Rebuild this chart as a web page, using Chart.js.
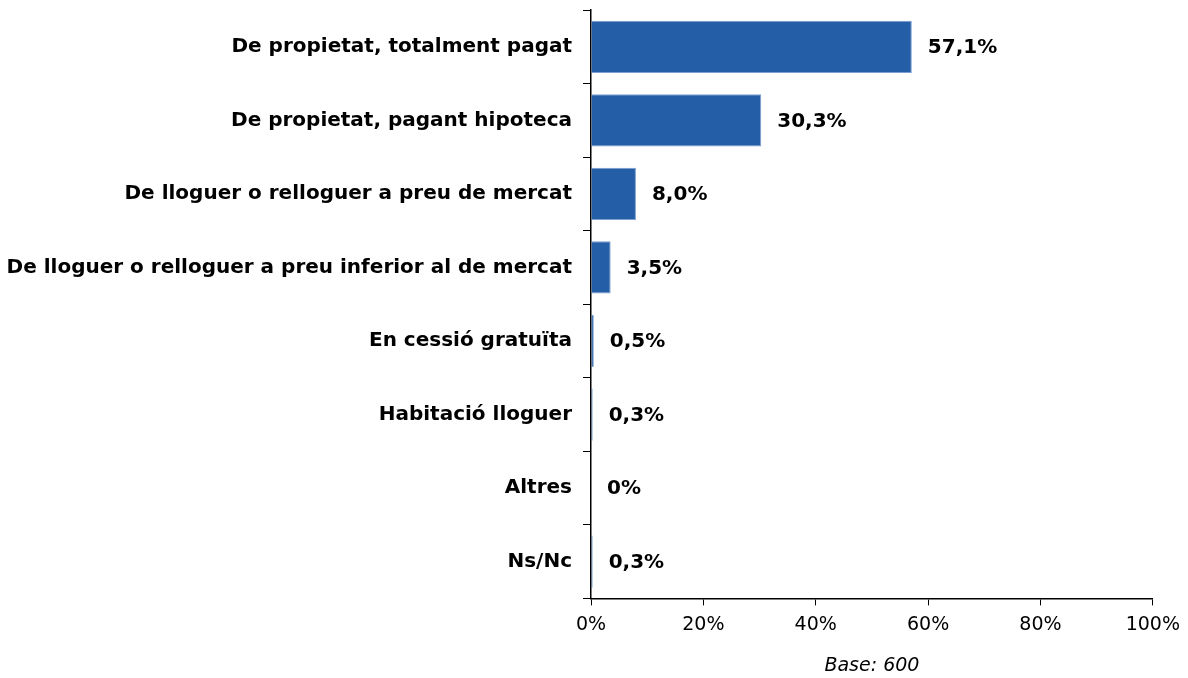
<!DOCTYPE html>
<html>
<head>
<meta charset="utf-8">
<script src="https://cdn.jsdelivr.net/npm/chart.js@4"></script>
<style>
  html, body { margin: 0; padding: 0; background: #fff; }
  #wrap { width: 1188px; height: 678px; position: relative; }
</style>
</head>
<body>
<div id="wrap"><canvas id="chart"></canvas></div>
<script>
const categories = [
  'De propietat, totalment pagat',
  'De propietat, pagant hipoteca',
  'De lloguer o relloguer a preu de mercat',
  'De lloguer o relloguer a preu inferior al de mercat',
  'En cessió gratuïta',
  'Habitació lloguer',
  'Altres',
  'Ns/Nc'
];
const values = [57.1, 30.3, 8.0, 3.5, 0.5, 0.3, 0, 0.3];
const xTicks = [0, 20, 40, 60, 80, 100];
const baseNote = 'Base: 600';

function fmt(v) {
  if (v === 0) return '0%';
  return v.toFixed(1).replace('.', ',') + '%';
}

// draw the value next to each bar
const valueLabels = {
  id: 'valueLabels',
  afterDatasetsDraw(chart) {
    const ctx = chart.ctx;
    const meta = chart.getDatasetMeta(0);
    ctx.save();
    ctx.font = 'bold 20px "DejaVu Sans"';
    ctx.fillStyle = '#000';
    ctx.textBaseline = 'middle';
    ctx.textAlign = 'left';
    meta.data.forEach((bar, i) => {
      ctx.fillText(fmt(values[i]), bar.x + 16, bar.y + 1);
    });
    ctx.restore();
  }
};

document.addEventListener('DOMContentLoaded', function() {
  const ctx = document.getElementById('chart').getContext('2d');
  new Chart(ctx, {
    type: 'bar',
    data: {
      labels: categories,
      datasets: [{
        data: values,
        backgroundColor: '#235ea7',
        borderColor: '#7c9fcf',
        borderWidth: 1,
        borderSkipped: 'start',
        categoryPercentage: 1,
        barPercentage: 0.71
      }]
    },
    options: {
      indexAxis: 'y',
      responsive: true,
      maintainAspectRatio: false,
      animation: false,
      layout: { padding: { top: 10, right: 32, left: 0, bottom: 0 } },
      plugins: {
        legend: { display: false },
        tooltip: { enabled: false }
      },
      scales: {
        x: {
          min: 0,
          max: 100,
          afterBuildTicks: scale => { scale.ticks = xTicks.map(v => ({ value: v })); },
          ticks: {
            callback: v => v + '%',
            color: '#000',
            font: { family: '"DejaVu Sans"', size: 19 },
            padding: 8
          },
          grid: {
            drawOnChartArea: false,
            drawTicks: true,
            tickLength: 7,
            color: '#000'
          },
          border: { color: '#000', width: 1.5 },
          title: {
            display: true,
            text: baseNote,
            color: '#000',
            font: { family: '"DejaVu Sans"', size: 19, style: 'italic' },
            padding: { top: 10, bottom: 1 }
          }
        },
        y: {
          ticks: {
            color: '#000',
            font: { family: '"DejaVu Sans"', size: 20, weight: 'bold' },
            padding: 11
          },
          grid: {
            offset: true,
            drawOnChartArea: false,
            drawTicks: true,
            tickLength: 8,
            color: '#000'
          },
          border: { color: '#000', width: 1.5 },
          afterFit: scale => {
            scale.width = 591;
            scale.paddingTop = 0;
            scale.paddingBottom = 0;
          }
        }
      }
    },
    plugins: [valueLabels]
  });
});
</script>
</body>
</html>
